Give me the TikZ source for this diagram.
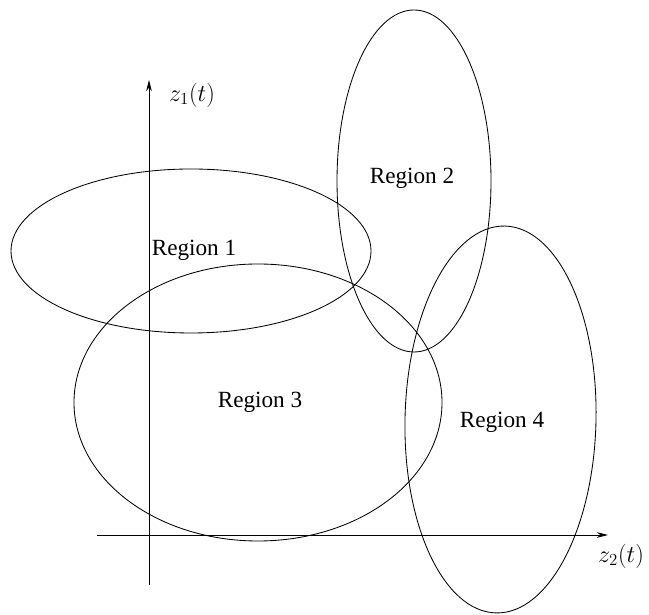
\documentclass[tikz,border=0pt]{standalone}
\usepackage{fontspec}
\setmainfont{Liberation Serif}
\usepackage{tikz}
\usetikzlibrary{arrows.meta}

\begin{document}
\begin{tikzpicture}[
    x=0.025cm, y=0.025cm,
    region/.style={draw, line width=0.6pt},
    axis/.style={-{Stealth[length=2.8mm, width=1.4mm]}, line width=0.6pt},
    lbl/.style={font=\fontsize{16.5}{18}\selectfont, inner sep=1pt}
]
\useasboundingbox (0,0) rectangle (649,615);

% --- Axes ---
\coordinate (vbot) at (149,30);
\coordinate (vtop) at (149,535);
\coordinate (hleft) at (97,80);
\coordinate (hright) at (608,80);
\draw[axis] (vbot) -- (vtop);
\draw[axis] (hleft) -- (hright);
\node[lbl] (z1) at (192,520) {$z_1(t)$};
\node[lbl] (z2) at (621,59) {$z_2(t)$};

% --- Regions ---
\draw[region] (191,364) ellipse [x radius=180, y radius=82];
\draw[region] (414,434) ellipse [x radius=77, y radius=171];
\draw[region] (258,212.5) ellipse [x radius=184, y radius=138.5];
\draw[region, rotate around={-1.3:(500.5,195.5)}] (500.5,195.5) ellipse [x radius=95.5, y radius=193.5];

\node[lbl] (r1) at (194,365) {Region 1};
\node[lbl] (r2) at (412,437) {Region 2};
\node[lbl] (r3) at (260,213) {Region 3};
\node[lbl] (r4) at (502,193) {Region 4};

\end{tikzpicture}
\end{document}
